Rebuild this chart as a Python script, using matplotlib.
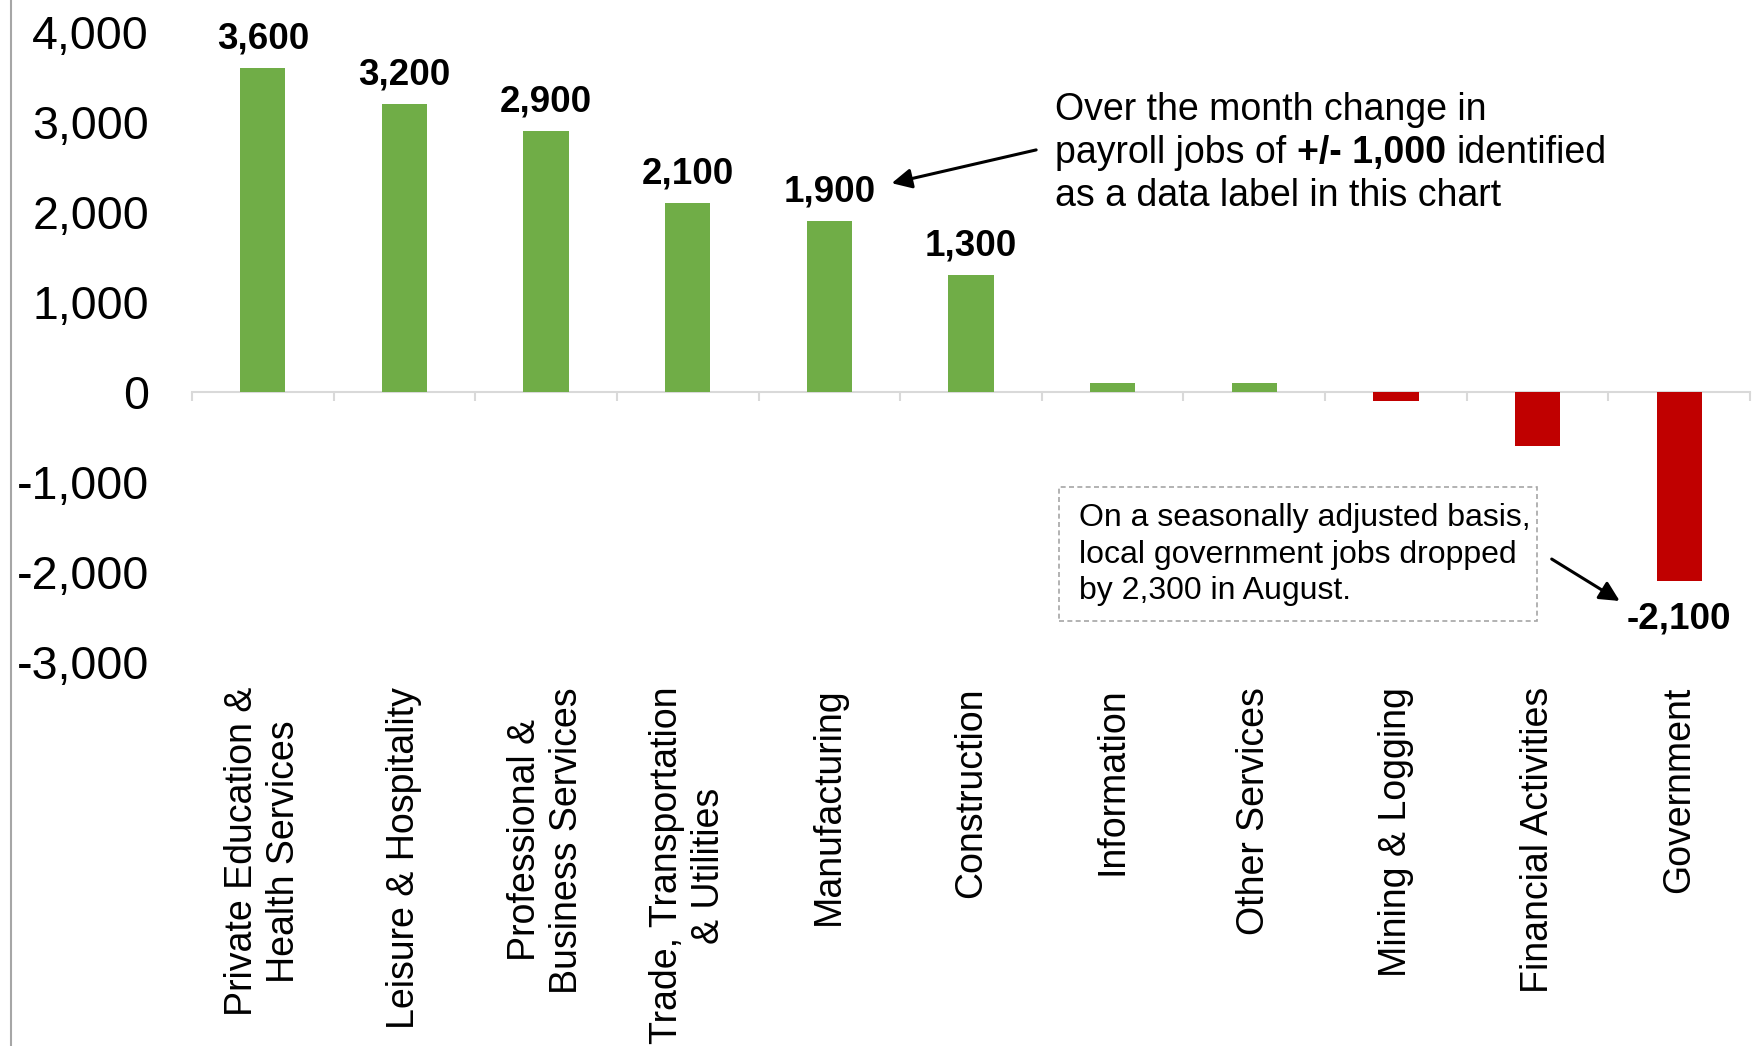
import matplotlib
matplotlib.use('Agg')
import matplotlib.pyplot as plt
from matplotlib.patches import Rectangle
from matplotlib.lines import Line2D
import numpy as np

plt.rcParams['font.family'] = ['Liberation Sans', 'DejaVu Sans']

# 数据
categories = ['Private Education &\nHealth Services', 'Leisure & Hospitality',
              'Professional &\nBusiness Services', 'Trade, Transportation\n& Utilities',
              'Manufacturing', 'Construction', 'Information', 'Other Services',
              'Mining & Logging', 'Financial Activities', 'Government']
job_change = [3600, 3200, 2900, 2100, 1900, 1300, 100, 100, -100, -600, -2100]
y_ticks = [-3000, -2000, -1000, 0, 1000, 2000, 3000, 4000]
label_threshold = 1000

GREEN = '#70ad47'
RED = '#c00000'
GRAY = '#d9d9d9'

W, H = 1754, 1046
fig = plt.figure(figsize=(W / 100, H / 100), dpi=100)
ax = fig.add_axes([192 / W, 384 / H, 1558 / W, 630 / H])

x = np.arange(len(categories))
colors = [GREEN if v >= 0 else RED for v in job_change]
ax.bar(x, job_change, width=0.32, color=colors, zorder=3)

ax.set_xlim(-0.5, len(categories) - 0.5)
ax.set_ylim(min(y_ticks), max(y_ticks))
ax.set_yticks(y_ticks)
ax.set_yticklabels([f'{v:,}' for v in y_ticks])
ax.tick_params(axis='y', length=0, pad=31, labelsize=33.5)

for side in ['left', 'right', 'top']:
    ax.spines[side].set_visible(False)
# 零线 + 分类边界刻度
ax.spines['bottom'].set_position(('data', 0))
ax.spines['bottom'].set_color(GRAY)
ax.spines['bottom'].set_linewidth(1.5)
ax.set_xticks(np.arange(-0.5, len(categories), 1))
ax.tick_params(axis='x', length=6.5, width=1.5, color=GRAY, labelbottom=False)

# 分类标签放在底部
sec = ax.secondary_xaxis(0)
sec.set_ticks(x, labels=categories)
sec.tick_params(axis='x', length=0, pad=18, labelsize=27, labelrotation=90)
for sp in sec.spines.values():
    sp.set_visible(False)
for lbl in sec.get_xticklabels():
    lbl.set_multialignment('center')
    lbl.set_linespacing(1.2)

# 数据标签 (+/- 1,000)
for xi, v in zip(x, job_change):
    if abs(v) < label_threshold:
        continue
    off = 14 if v > 0 else -34.5
    ax.annotate(f'{v:,}', xy=(xi, v), xytext=(0, off), textcoords='offset points',
                ha='center', va='baseline', fontsize=26.5, fontweight='bold')

# 右上注释
fs = 27
tx = 1055 / W
fig.text(tx, (H - 120) / H, 'Over the month change in', fontsize=fs, va='baseline')
t1 = fig.text(tx, (H - 163) / H, 'payroll jobs of', fontsize=fs, va='baseline')
space = 0.278 * fs
t2 = ax.annotate('+/- 1,000', xy=(1, 0), xycoords=t1, xytext=(space, 0),
                 textcoords='offset points', va='bottom', fontsize=fs, fontweight='bold',
                 annotation_clip=False)
ax.annotate('identified', xy=(1, 0), xycoords=t2, xytext=(space, 0),
            textcoords='offset points', va='bottom', fontsize=fs, annotation_clip=False)
fig.text(tx, (H - 206) / H, 'as a data label in this chart', fontsize=fs, va='baseline')

arrow = dict(arrowstyle='-|>,head_length=0.6,head_width=0.3', color='black',
             lw=2.2, mutation_scale=20, shrinkA=0, shrinkB=0)
ax.annotate('', xy=(4.44, 2320), xytext=(5.46, 2690), arrowprops=arrow, annotation_clip=False)

# 下方虚线框注释
fig.patches.append(Rectangle((1059 / W, 425 / H), 478 / W, 134 / H, transform=fig.transFigure,
                             fill=False, edgecolor='#a6a6a6', linestyle=(0, (3, 2)), lw=1.2))
box_lines = ['On a seasonally adjusted basis,', 'local government jobs dropped',
             'by 2,300 in August.']
for line, base in zip(box_lines, [526, 563, 599]):
    fig.text(1079 / W, (H - base) / H, line, fontsize=23, va='baseline')
ax.annotate('', xy=(9.58, -2322), xytext=(9.10, -1856), arrowprops=arrow, annotation_clip=False)

# 左侧灰色竖线
fig.add_artist(Line2D([11 / W, 11 / W], [0, 1], transform=fig.transFigure,
                      color='#a6a6a6', lw=1.5))

fig.savefig('out.png', dpi=100, facecolor='white')
